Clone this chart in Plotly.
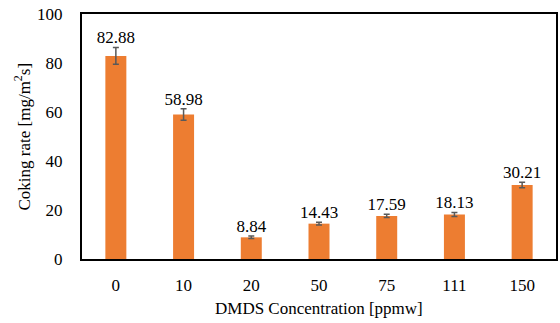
import plotly.graph_objects as go

categories = ["0", "10", "20", "50", "75", "111", "150"]
values = [82.88, 58.98, 8.84, 14.43, 17.59, 18.13, 30.21]
errors = [3.4, 2.3, 0.5, 0.6, 0.7, 0.8, 1.1]
labels = ["82.88", "58.98", "8.84", "14.43", "17.59", "18.13", "30.21"]

font = "Liberation Serif"
W, H = 560, 323
L, R, T, B = 82, 4, 14, 64
pw, ph = W - L - R, H - T - B

fig = go.Figure()
fig.add_trace(go.Bar(
    x=categories, y=values,
    marker=dict(color="#ED7D31", line=dict(width=0)),
    error_y=dict(type="data", array=errors, visible=True, color="#595959", thickness=1.5, width=3),
    hoverinfo="skip",
))
fig.add_trace(go.Scatter(
    x=categories, y=[v + e for v, e in zip(values, errors)],
    mode="text", text=labels, textposition="top center", cliponaxis=False,
    textfont=dict(family=font, size=17, color="black"), hoverinfo="skip",
))

fig.update_layout(
    width=W, height=H,
    margin=dict(l=L, r=R, t=T, b=B),
    paper_bgcolor="white", plot_bgcolor="white",
    bargap=0.69,
    showlegend=False,
    font=dict(family=font, size=17, color="black"),
    annotations=[
        dict(text="DMDS Concentration [ppmw]", xref="paper", yref="paper",
             x=0.5, y=-(308 - (T + ph)) / ph, xanchor="center", yanchor="middle",
             showarrow=False, font=dict(family=font, size=17, color="black")),
        dict(text="Coking rate [mg/m<sup>2</sup>s]", xref="paper", yref="paper",
             x=-(L - 22) / pw, y=0.5, xanchor="center", yanchor="middle", textangle=-90,
             showarrow=False, font=dict(family=font, size=17, color="black")),
    ],
)
fig.update_xaxes(
    type="category", showline=True, linecolor="black", linewidth=2, mirror=True,
    ticks="", automargin=False, ticklabelstandoff=10,
    tickfont=dict(family=font, size=17, color="black"),
)
fig.update_yaxes(
    range=[0, 100], tickvals=[0, 20, 40, 60, 80, 100], showgrid=False, zeroline=False,
    showline=True, linecolor="black", linewidth=2, mirror=True, ticks="",
    automargin=False, ticklabelstandoff=14,
    tickfont=dict(family=font, size=17, color="black"),
)

fig.write_html("out.html", config={"displayModeBar": False},
               post_script="document.body.style.margin='0';document.body.style.overflow='hidden';")
